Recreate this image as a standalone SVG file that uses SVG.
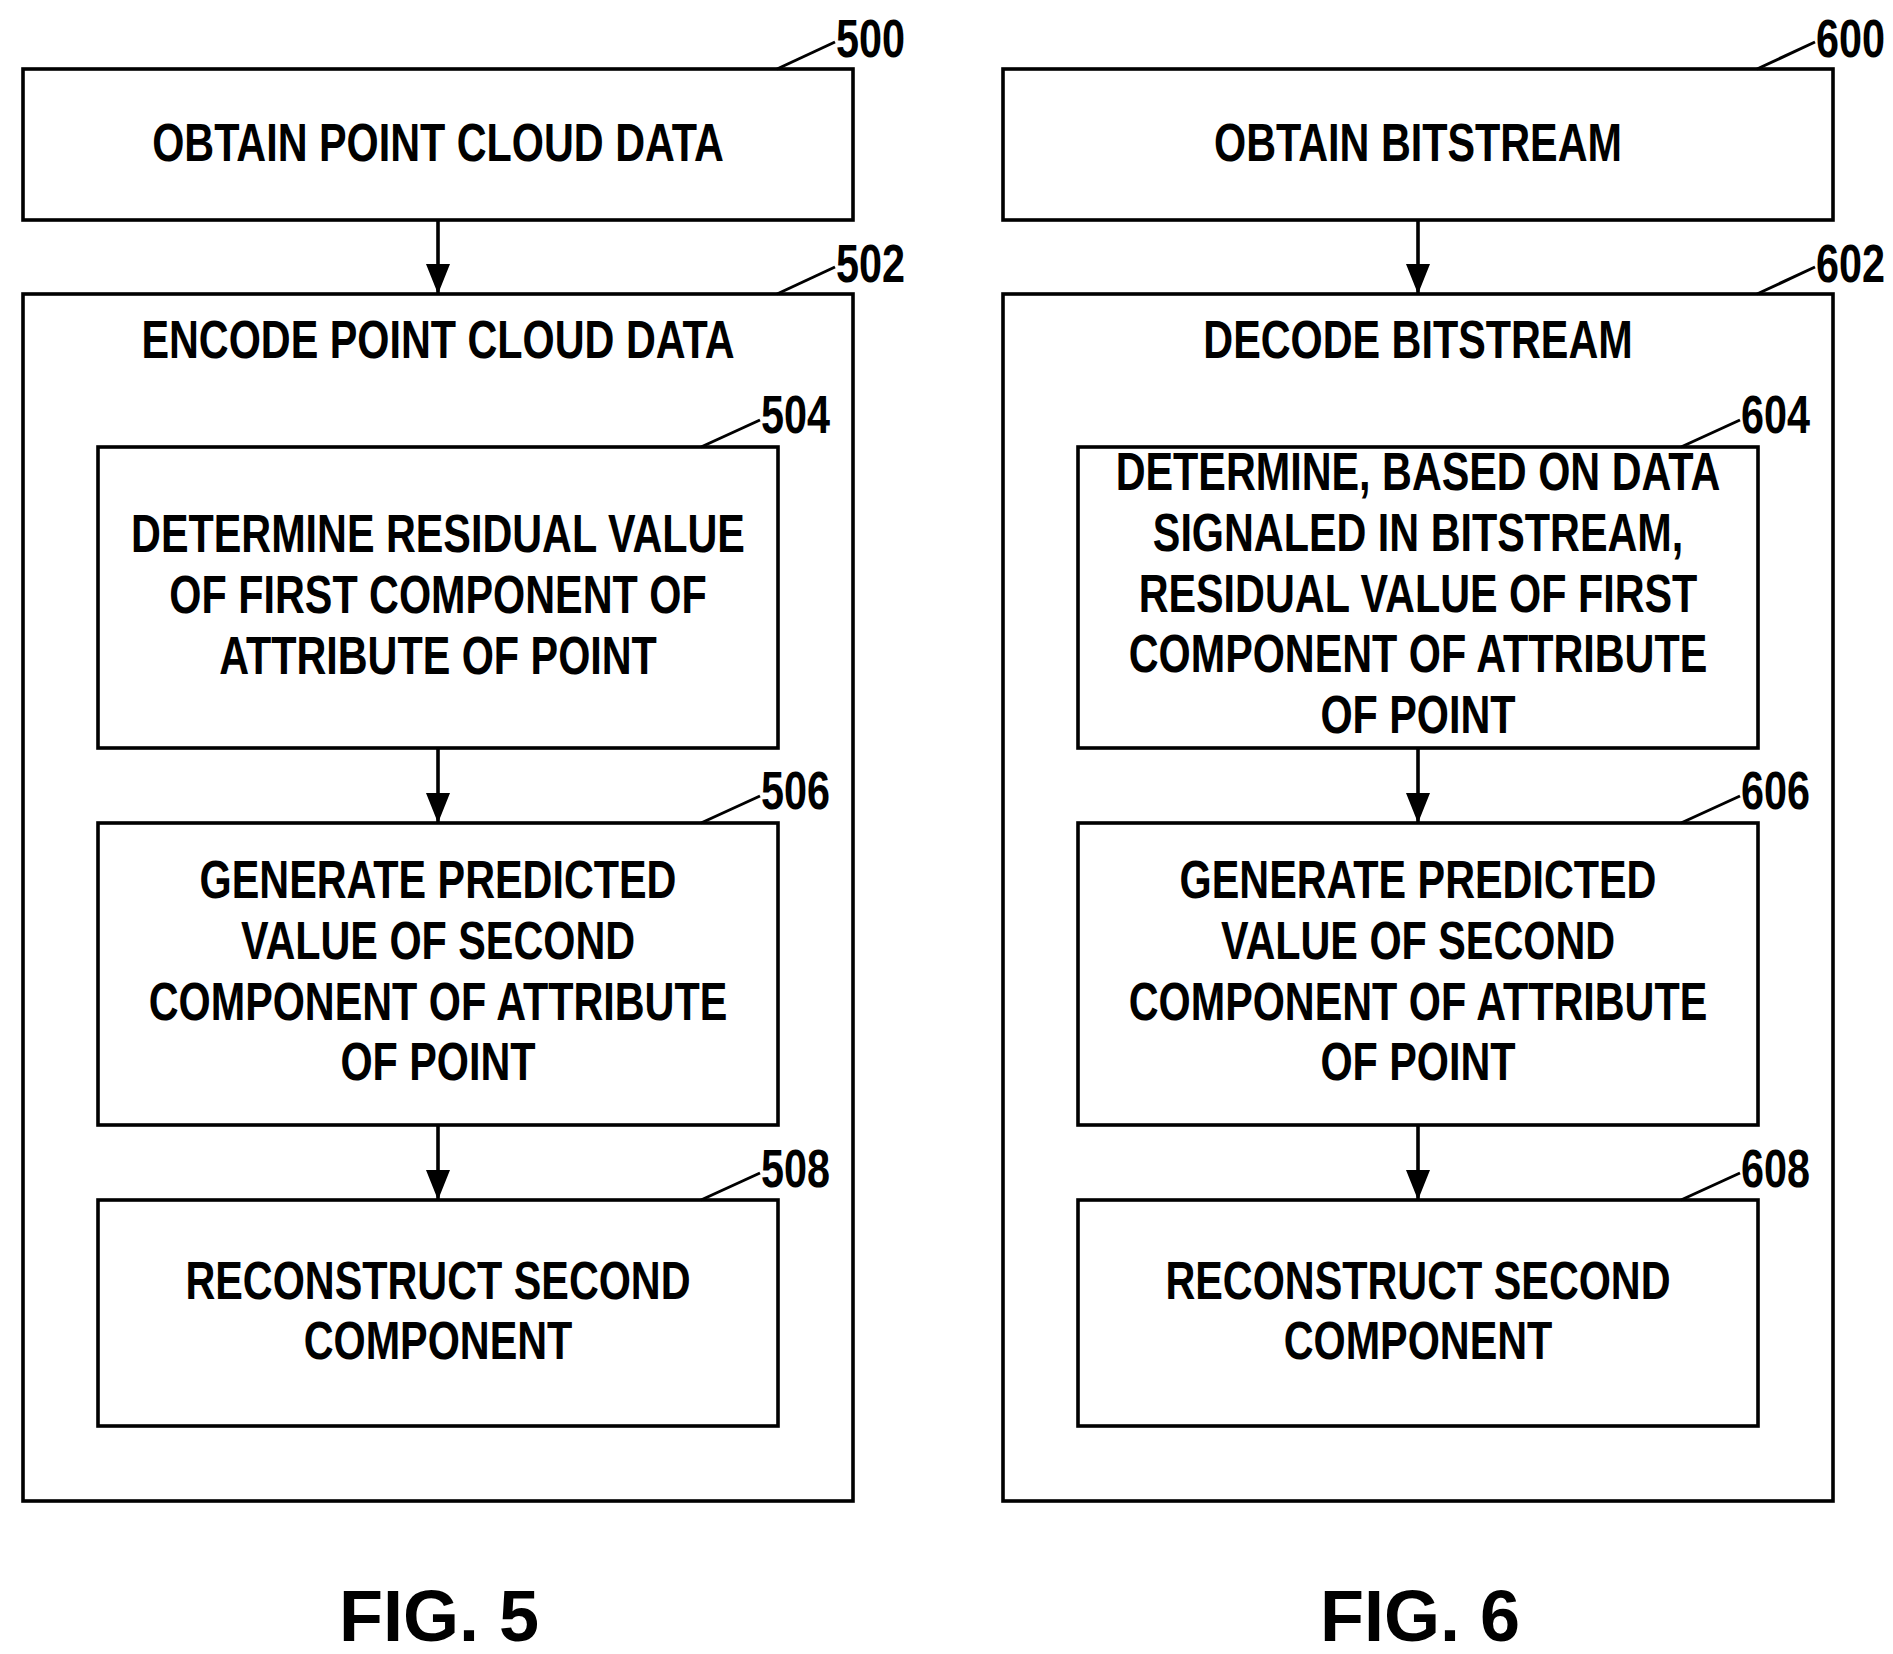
<svg xmlns="http://www.w3.org/2000/svg" width="1893" height="1654" viewBox="0 0 1893 1654">
<style>
rect{fill:#fff;stroke:#000;stroke-width:3.6}
text{font-family:"Liberation Sans",Arial,sans-serif;font-weight:bold;font-size:53px;fill:#000;text-anchor:middle}
text.n{text-anchor:start}
text.f{font-size:72px}
.c line{stroke:#000;stroke-width:3.6}
.l{stroke:#000;stroke-width:3}
</style>
<defs><marker id="a" markerWidth="30" markerHeight="24" refX="30" refY="12" orient="auto" markerUnits="userSpaceOnUse" viewBox="0 0 30 24"><path d="M0,0 L30,12 L0,24 Z"/></marker></defs>
<rect x="0" y="0" width="1893" height="1654" style="fill:#fff;stroke:none"/>
<g id="n500"><rect x="23" y="69" width="830" height="151"/><g transform="translate(438 0) scale(0.78 1)"><text x="0" y="161">OBTAIN POINT CLOUD DATA</text></g><line class="l" x1="777" y1="69" x2="835" y2="42"/><g transform="translate(836 0) scale(0.78 1)"><text class="n" x="0" y="57">500</text></g></g>
<g id="n502"><rect x="23" y="294" width="830" height="1207"/><g transform="translate(438 0) scale(0.78 1)"><text x="0" y="358">ENCODE POINT CLOUD DATA</text></g><line class="l" x1="777" y1="294" x2="835" y2="267"/><g transform="translate(836 0) scale(0.78 1)"><text class="n" x="0" y="282">502</text></g></g>
<g id="n504"><rect x="98" y="447" width="680" height="301"/><g transform="translate(438 0) scale(0.78 1)"><text x="0" y="552">DETERMINE RESIDUAL VALUE</text><text x="0" y="613">OF FIRST COMPONENT OF</text><text x="0" y="674">ATTRIBUTE OF POINT</text></g><line class="l" x1="701" y1="447" x2="760" y2="420"/><g transform="translate(761 0) scale(0.78 1)"><text class="n" x="0" y="433">504</text></g></g>
<g id="n506"><rect x="98" y="823" width="680" height="302"/><g transform="translate(438 0) scale(0.78 1)"><text x="0" y="898">GENERATE PREDICTED</text><text x="0" y="959">VALUE OF SECOND</text><text x="0" y="1020">COMPONENT OF ATTRIBUTE</text><text x="0" y="1080">OF POINT</text></g><line class="l" x1="701" y1="823" x2="760" y2="796"/><g transform="translate(761 0) scale(0.78 1)"><text class="n" x="0" y="809">506</text></g></g>
<g id="n508"><rect x="98" y="1200" width="680" height="226"/><g transform="translate(438 0) scale(0.78 1)"><text x="0" y="1299">RECONSTRUCT SECOND</text><text x="0" y="1359">COMPONENT</text></g><line class="l" x1="701" y1="1200" x2="760" y2="1173"/><g transform="translate(761 0) scale(0.78 1)"><text class="n" x="0" y="1187">508</text></g></g>
<g id="n600"><rect x="1003" y="69" width="830" height="151"/><g transform="translate(1418 0) scale(0.78 1)"><text x="0" y="161">OBTAIN BITSTREAM</text></g><line class="l" x1="1757" y1="69" x2="1815" y2="42"/><g transform="translate(1816 0) scale(0.78 1)"><text class="n" x="0" y="57">600</text></g></g>
<g id="n602"><rect x="1003" y="294" width="830" height="1207"/><g transform="translate(1418 0) scale(0.78 1)"><text x="0" y="358">DECODE BITSTREAM</text></g><line class="l" x1="1757" y1="294" x2="1815" y2="267"/><g transform="translate(1816 0) scale(0.78 1)"><text class="n" x="0" y="282">602</text></g></g>
<g id="n604"><rect x="1078" y="447" width="680" height="301"/><g transform="translate(1418 0) scale(0.78 1)"><text x="0" y="490">DETERMINE, BASED ON DATA</text><text x="0" y="551">SIGNALED IN BITSTREAM,</text><text x="0" y="612">RESIDUAL VALUE OF FIRST</text><text x="0" y="672">COMPONENT OF ATTRIBUTE</text><text x="0" y="733">OF POINT</text></g><line class="l" x1="1681" y1="447" x2="1740" y2="420"/><g transform="translate(1741 0) scale(0.78 1)"><text class="n" x="0" y="433">604</text></g></g>
<g id="n606"><rect x="1078" y="823" width="680" height="302"/><g transform="translate(1418 0) scale(0.78 1)"><text x="0" y="898">GENERATE PREDICTED</text><text x="0" y="959">VALUE OF SECOND</text><text x="0" y="1020">COMPONENT OF ATTRIBUTE</text><text x="0" y="1080">OF POINT</text></g><line class="l" x1="1681" y1="823" x2="1740" y2="796"/><g transform="translate(1741 0) scale(0.78 1)"><text class="n" x="0" y="809">606</text></g></g>
<g id="n608"><rect x="1078" y="1200" width="680" height="226"/><g transform="translate(1418 0) scale(0.78 1)"><text x="0" y="1299">RECONSTRUCT SECOND</text><text x="0" y="1359">COMPONENT</text></g><line class="l" x1="1681" y1="1200" x2="1740" y2="1173"/><g transform="translate(1741 0) scale(0.78 1)"><text class="n" x="0" y="1187">608</text></g></g>
<g id="connectors" class="c">
<line x1="438" y1="220" x2="438" y2="294" marker-end="url(#a)"/>
<line x1="438" y1="748" x2="438" y2="823" marker-end="url(#a)"/>
<line x1="438" y1="1125" x2="438" y2="1200" marker-end="url(#a)"/>
<line x1="1418" y1="220" x2="1418" y2="294" marker-end="url(#a)"/>
<line x1="1418" y1="748" x2="1418" y2="823" marker-end="url(#a)"/>
<line x1="1418" y1="1125" x2="1418" y2="1200" marker-end="url(#a)"/>
</g>
<text class="f" x="439" y="1641">FIG. 5</text>
<text class="f" x="1420" y="1641">FIG. 6</text>
</svg>
